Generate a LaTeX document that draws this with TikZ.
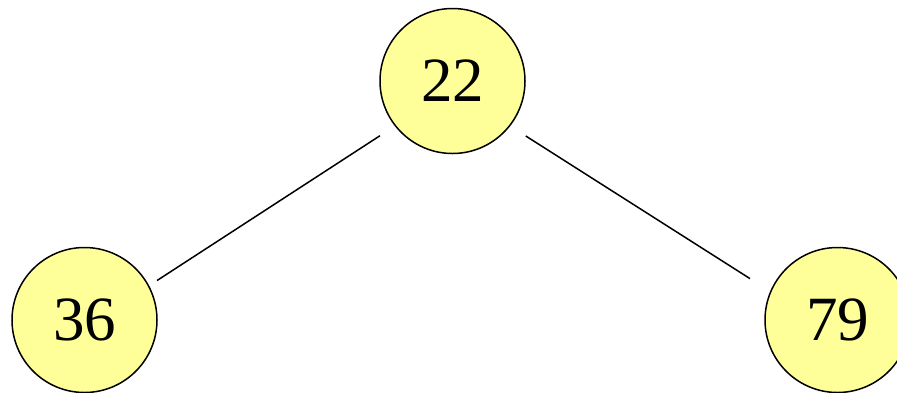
\documentclass[tikz,border=0pt]{standalone}
\usepackage{fontspec}
\setmainfont{Liberation Serif}
\definecolor{nodefill}{HTML}{FFFF99}
\begin{document}
\begin{tikzpicture}[x=1pt,y=-1pt,
  treenode/.style={circle,draw=black,line width=1.5pt,fill=nodefill,minimum size=145pt,inner sep=0pt,font=\fontsize{63}{63}\selectfont},
  edge/.style={draw=black,line width=1.5pt}]
\useasboundingbox (0,0) rectangle (897,392);
\node[treenode] (n22) at (452.5,81) {\raisebox{-2pt}{22}};
\node[treenode] (n36) at (84.5,320) {\raisebox{-2pt}{36}};
\node[treenode] (n79) at (837.5,320) {\raisebox{-2pt}{79}};
\draw[edge,shorten <=17.6pt,shorten >=9.4pt] (n22.218) -- (n36.28);
\draw[edge,shorten <=18.4pt,shorten >=23.8pt] (n22.322) -- (n79.157);
\end{tikzpicture}
\end{document}
